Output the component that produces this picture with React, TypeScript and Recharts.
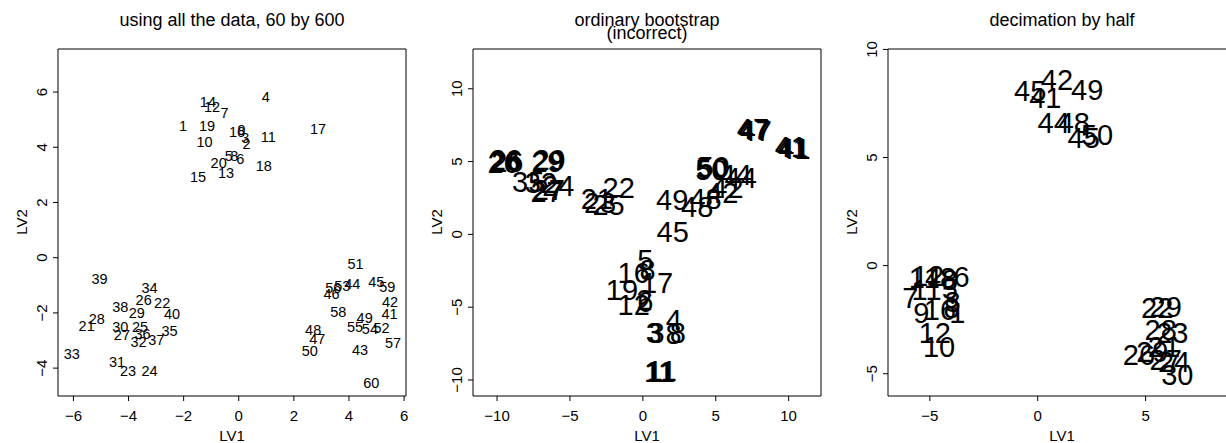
import React from 'react';
import { ScatterChart, Scatter, XAxis, YAxis, ReferenceArea } from 'recharts';

const FONT = '"Liberation Sans", Arial, Helvetica, sans-serif';

// ---------- Panel 1: using all the data ----------
const p1Labels = Array.from({ length: 60 }, (_, i) => String(i + 1));
const p1X = [
  -2.02, 0.28, 0.24, 0.98, -0.36, 0.06, -0.52, -0.16, 0.10, -1.24,
  1.07, -0.97, -0.46, -1.12, -1.48, -0.06, 2.88, 0.91, -1.15, -0.73,
  -5.52, -2.78, -4.02, -3.24, -3.58, -3.45, -4.24, -5.15, -3.70, -4.30,
  -4.42, -3.64, -6.06, -3.24, -2.51, -3.49, -2.99, -4.30, -5.05, -2.42,
  5.47, 5.49, 4.40, 4.12, 4.99, 3.37, 2.85, 2.70, 4.57, 2.58,
  4.24, 5.18, 3.76, 4.76, 4.22, 3.43, 5.60, 3.61, 5.39, 4.81,
];
const p1Y = [
  4.77, 4.12, 4.32, 5.81, 3.70, 3.57, 5.25, 3.70, 4.63, 4.20,
  4.36, 5.47, 3.06, 5.65, 2.93, 4.54, 4.66, 3.32, 4.77, 3.44,
  -2.46, -1.63, -4.11, -4.11, -2.52, -1.53, -2.80, -2.22, -1.99, -2.50,
  -3.79, -3.04, -3.49, -1.11, -2.66, -2.78, -2.98, -1.80, -0.77, -2.04,
  -2.05, -1.62, -3.35, -0.95, -0.87, -1.32, -2.96, -2.62, -2.20, -3.37,
  -0.23, -2.56, -1.01, -2.60, -2.52, -1.11, -3.10, -1.96, -1.07, -4.55,
];
const p1XTicks = [-6, -4, -2, 0, 2, 4, 6];
const p1YTicks = [-4, -2, 0, 2, 4, 6];
const p1XDomain = [-6.56, 6.07];
const p1YDomain = [-5.01, 7.56];

// ---------- Panel 2: ordinary bootstrap ----------
const p2Labels = [
  '26', '26', '26', '26', '29', '29', '29', '35', '32', '27', '27', '24',
  '22', '21', '25', '23', '49', '48', '48', '45', '50', '50', '50',
  '44', '44', '42', '42', '47', '47', '47', '41', '41', '41',
  '5', '16', '8', '17', '19', '12', '6', '2', '4', '3', '3', '8', '8',
  '11', '11', '11',
];
const p2X = [
  -9.47, -9.40, -9.55, -9.30, -6.49, -6.40, -6.55, -7.86, -7.00, -6.60, -6.45, -5.80,
  -1.66, -3.16, -2.35, -2.93, 2.01, 3.73, 4.30, 2.05, 4.76, 4.85, 4.70,
  6.37, 6.71, 5.80, 5.45, 7.63, 7.75, 7.55, 10.27, 10.40, 10.15,
  0.17, -0.63, 0.33, 0.98, -1.43, -0.63, 0.17, 0.10, 2.12, 0.75, 0.95, 2.40, 2.10,
  1.21, 1.30, 1.12,
];
const p2Y = [
  5.01, 5.10, 4.92, 4.98, 5.01, 5.12, 4.95, 3.63, 3.50, 2.94, 3.05, 3.29,
  3.17, 2.42, 2.03, 2.14, 2.37, 1.91, 2.42, 0.19, 4.55, 4.62, 4.45,
  4.09, 3.86, 3.17, 2.83, 7.18, 7.10, 7.25, 5.92, 5.85, 6.00,
  -1.75, -2.67, -2.44, -3.36, -3.82, -4.85, -4.62, -4.50, -5.88, -6.80, -6.75, -6.80, -6.85,
  -9.43, -9.38, -9.48,
];
const p2XTicks = [-10, -5, 0, 5, 10];
const p2YTicks = [-10, -5, 0, 5, 10];
const p2XDomain = [-11.65, 12.22];
const p2YDomain = [-11.1, 12.73];

// ---------- Panel 3: decimation by half ----------
const p3Labels = [
  '45', '42', '41', '49', '44', '48', '45', '50',
  '14', '12', '18', '8', '6', '7', '11', '5', '3', '9', '16', '8', '1', '12', '10',
  '22', '29', '28', '23', '21', '26', '29', '27', '24', '30',
];
const p3X = [
  -0.35, 0.89, 0.35, 2.29, 0.74, 1.67, 2.13, 2.75,
  -5.23, -5.08, -4.53, -4.07, -3.53, -5.90, -5.15, -4.07, -3.95, -5.39, -4.53, -3.99, -3.73, -4.77, -4.57,
  5.54, 5.93, 5.70, 6.24, 5.85, 4.69, 5.31, 5.93, 6.32, 6.47,
];
const p3Y = [
  8.06, 8.60, 7.75, 8.13, 6.59, 6.59, 5.90, 6.05,
  -0.59, -0.48, -0.59, -0.66, -0.51, -1.51, -1.13, -1.10, -1.67, -2.21, -2.05, -1.98, -2.21, -3.13, -3.75,
  -1.98, -1.90, -2.98, -3.13, -3.75, -4.14, -3.98, -4.37, -4.44, -5.06,
];
const p3XTicks = [-5, 0, 5];
const p3YTicks = [-5, 0, 5, 10];
const p3XDomain = [-6.94, 9.19];
const p3YDomain = [-6.03, 10.02];

const fmt = (v: number) => (v < 0 ? '\u2212' + Math.abs(v) : String(v));

const build = (labels: string[], xs: number[], ys: number[]) =>
  labels.map((label, i) => ({ label, x: xs[i], y: ys[i] }));

type PanelProps = {
  left: number;
  title: string[];
  data: { label: string; x: number; y: number }[];
  xDomain: number[];
  yDomain: number[];
  xTicks: number[];
  yTicks: number[];
  labelSize: number;
};

const Panel = ({ left, title, data, xDomain, yDomain, xTicks, yTicks, labelSize }: PanelProps) => {
  const XTick = (props: any) => (
    <text x={props.x} y={415} textAnchor="middle" dominantBaseline="central" fontSize={15} fontFamily={FONT} fill="#000">
      {fmt(props.payload.value)}
    </text>
  );
  const YTick = (props: any) => (
    <text
      x={42}
      y={props.y}
      transform={`rotate(-90, 42, ${props.y})`}
      textAnchor="middle"
      dominantBaseline="central"
      fontSize={15}
      fontFamily={FONT}
      fill="#000"
    >
      {fmt(props.payload.value)}
    </text>
  );
  const LabelShape = (props: any) => (
    <text
      x={props.cx}
      y={props.cy}
      textAnchor="middle"
      dominantBaseline="central"
      fontSize={labelSize}
      fontFamily={FONT}
      fill="#000"
    >
      {props.payload.label}
    </text>
  );
  return (
    <div style={{ position: 'absolute', left, top: 0, width: 415, height: 443 }}>
      <ScatterChart width={415} height={443} margin={{ top: 49, right: 9, bottom: 7, left: 8 }}>
        <XAxis
          type="number"
          dataKey="x"
          domain={xDomain}
          ticks={xTicks}
          allowDataOverflow
          axisLine={false}
          tickLine={{ stroke: '#000' }}
          tickSize={5}
          height={40}
          tick={<XTick />}
          interval={0}
        />
        <YAxis
          type="number"
          dataKey="y"
          domain={yDomain}
          ticks={yTicks}
          allowDataOverflow
          axisLine={false}
          tickLine={{ stroke: '#000' }}
          tickSize={5}
          width={50}
          tick={<YTick />}
          interval={0}
        />
        <ReferenceArea
          x1={xDomain[0]}
          x2={xDomain[1]}
          y1={yDomain[0]}
          y2={yDomain[1]}
          fill="none"
          fillOpacity={0}
          stroke="#000"
          strokeWidth={1}
          ifOverflow="visible"
        />
        <Scatter data={data} isAnimationActive={false} shape={<LabelShape />} />
      </ScatterChart>
      {title.map((t, i) => (
        <div
          key={i}
          style={{
            position: 'absolute',
            left: 58,
            width: 348,
            top: 9 + i * 13,
            textAlign: 'center',
            fontFamily: FONT,
            fontSize: 18,
            lineHeight: '22px',
            color: '#000',
            whiteSpace: 'nowrap',
          }}
        >
          {t}
        </div>
      ))}
      <div
        style={{
          position: 'absolute',
          left: 58,
          width: 348,
          top: 427,
          textAlign: 'center',
          fontFamily: FONT,
          fontSize: 15,
          lineHeight: '18px',
          color: '#000',
        }}
      >
        LV1
      </div>
      <div
        style={{
          position: 'absolute',
          left: 22 - 20,
          top: 222 - 9,
          width: 40,
          height: 18,
          textAlign: 'center',
          fontFamily: FONT,
          fontSize: 15,
          lineHeight: '18px',
          color: '#000',
          transform: 'rotate(-90deg)',
        }}
      >
        LV2
      </div>
    </div>
  );
};

export default function App() {
  return (
    <div
      style={{
        position: 'absolute',
        left: 0,
        top: 0,
        width: 1226,
        height: 443,
        overflow: 'hidden',
        background: '#fff',
      }}
    >
      <Panel
        left={0}
        title={['using all the data, 60 by 600']}
        data={build(p1Labels, p1X, p1Y)}
        xDomain={p1XDomain}
        yDomain={p1YDomain}
        xTicks={p1XTicks}
        yTicks={p1YTicks}
        labelSize={14.5}
      />
      <Panel
        left={415}
        title={['ordinary bootstrap', '(incorrect)']}
        data={build(p2Labels, p2X, p2Y)}
        xDomain={p2XDomain}
        yDomain={p2YDomain}
        xTicks={p2XTicks}
        yTicks={p2YTicks}
        labelSize={29}
      />
      <Panel
        left={830}
        title={['decimation by half']}
        data={build(p3Labels, p3X, p3Y)}
        xDomain={p3XDomain}
        yDomain={p3YDomain}
        xTicks={p3XTicks}
        yTicks={p3YTicks}
        labelSize={29}
      />
    </div>
  );
}
